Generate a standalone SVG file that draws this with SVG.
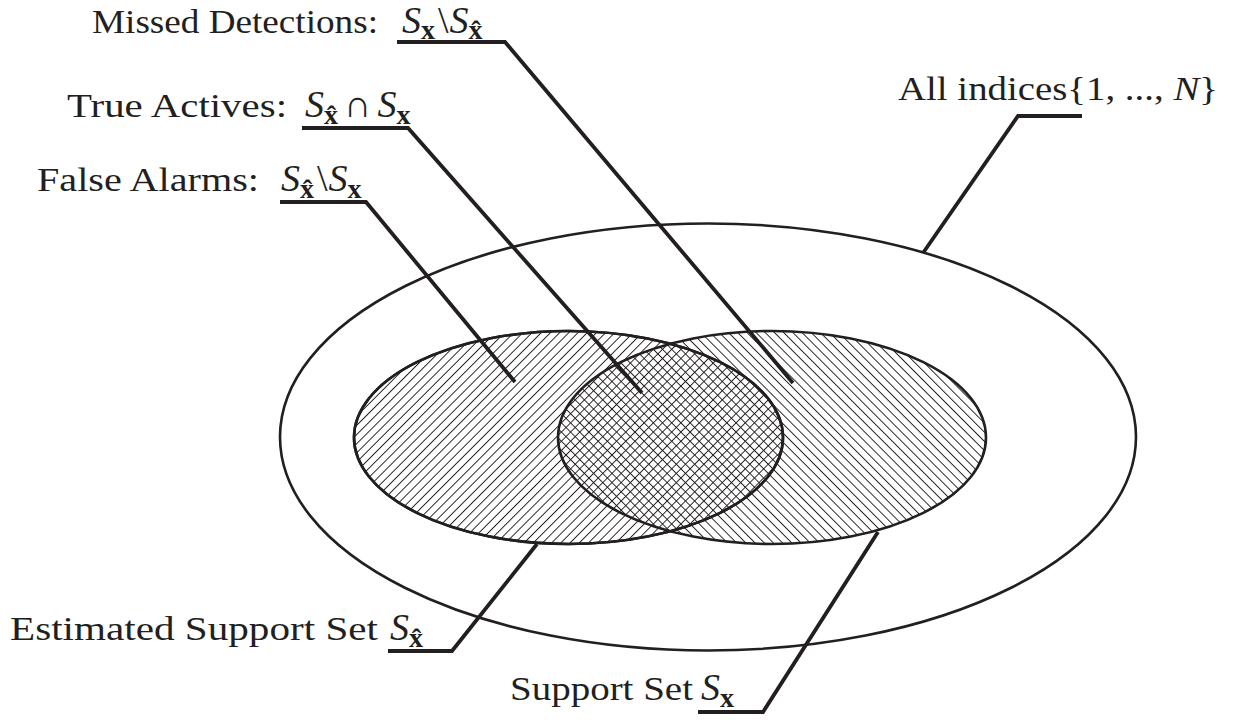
<svg xmlns="http://www.w3.org/2000/svg" width="1256" height="720" viewBox="0 0 1256 720">
<defs>
<pattern id="hatchA" patternUnits="userSpaceOnUse" width="6.5" height="6.5" patternTransform="rotate(45)">
<line x1="0" y1="0" x2="0" y2="6.5" stroke="#231f20" stroke-width="1.9"/>
</pattern>
<pattern id="hatchB" patternUnits="userSpaceOnUse" width="6.5" height="6.5" patternTransform="rotate(-45)">
<line x1="0" y1="0" x2="0" y2="6.5" stroke="#231f20" stroke-width="1.9"/>
</pattern>
</defs>
<style>
.set{stroke:#231f20;stroke-width:2.6}
.lead{fill:none;stroke:#231f20;stroke-width:3.8;stroke-linejoin:miter}
.lbl{font-family:"Liberation Serif","DejaVu Serif",serif;font-size:34px;fill:#231f20}
.m{font-family:"Liberation Serif","DejaVu Serif",serif;font-size:38px;fill:#231f20}
.it{font-style:italic}
.sub{font-weight:bold;font-size:28px}
</style>
<rect width="1256" height="720" fill="#fff"/>
<g id="all-indices">
<ellipse class="set" cx="708" cy="437" rx="428" ry="213.5" fill="none"/>
</g>
<g id="estimated-support">
<ellipse class="set" cx="568.5" cy="437.5" rx="214.5" ry="106.5" fill="url(#hatchA)"/>
</g>
<g id="support">
<ellipse class="set" cx="772" cy="437.5" rx="214" ry="106.5" fill="url(#hatchB)"/>
<ellipse cx="568.5" cy="437.5" rx="214.5" ry="106.5" fill="none" class="set"/>
</g>
<g id="connectors">
<polyline class="lead" points="397,42 505,42 793,383"/>
<polyline class="lead" points="302,128 408,128 642,393"/>
<polyline class="lead" points="280,202 366,202 515,382"/>
<polyline class="lead" points="1082,116 1018,116 923,253"/>
<polyline class="lead" points="388,651 452,651 537,544"/>
<polyline class="lead" points="698,712 763,712 878,532"/>
</g>
<g id="label-missed">
<text class="lbl" x="92" y="33" textLength="286" lengthAdjust="spacingAndGlyphs">Missed Detections:</text>
<text class="m" x="402" y="33"><tspan class="it">S</tspan><tspan class="sub" dy="6">x</tspan><tspan dy="-6" dx="3">\</tspan><tspan class="it" dx="1">S</tspan><tspan class="sub" dy="6">x̂</tspan></text>
</g>
<g id="label-true">
<text class="lbl" x="67" y="117" textLength="220" lengthAdjust="spacingAndGlyphs">True Actives:</text>
<text class="m" x="305" y="117"><tspan class="it">S</tspan><tspan class="sub" dy="7">x̂</tspan><tspan dy="-7" dx="6">∩</tspan><tspan class="it" dx="6">S</tspan><tspan class="sub" dy="7">x</tspan></text>
</g>
<g id="label-false">
<text class="lbl" x="37" y="191" textLength="222" lengthAdjust="spacingAndGlyphs">False Alarms:</text>
<text class="m" x="281" y="191"><tspan class="it">S</tspan><tspan class="sub" dy="7">x̂</tspan><tspan dy="-7" dx="3">\</tspan><tspan class="it" dx="1">S</tspan><tspan class="sub" dy="7">x</tspan></text>
</g>
<g id="label-all">
<text class="lbl" x="898" y="100" textLength="320" lengthAdjust="spacingAndGlyphs">All indices{1, ..., <tspan class="it">N</tspan>}</text>
</g>
<g id="label-estimated">
<text class="lbl" x="10" y="640" textLength="368" lengthAdjust="spacingAndGlyphs">Estimated Support Set</text>
<text class="m" x="390" y="640"><tspan class="it">S</tspan><tspan class="sub" dy="7">x̂</tspan></text>
</g>
<g id="label-support">
<text class="lbl" x="510" y="700" textLength="183" lengthAdjust="spacingAndGlyphs">Support Set</text>
<text class="m" x="701" y="700"><tspan class="it">S</tspan><tspan class="sub" dy="7">x</tspan></text>
</g>
</svg>
